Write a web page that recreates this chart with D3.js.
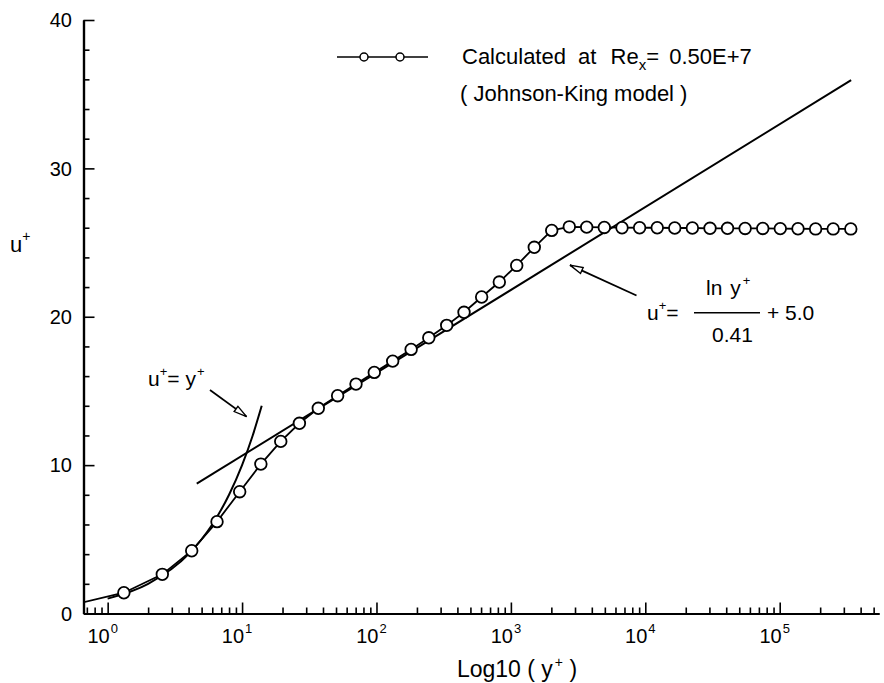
<!DOCTYPE html>
<html>
<head>
<meta charset="utf-8">
<script src="https://cdn.jsdelivr.net/npm/d3@7"></script>
<style>
  body { margin: 0; background: #fff; }
  svg { display: block; font-family: "Liberation Sans", Arial, Helvetica, sans-serif; }
</style>
</head>
<body>
<svg id="chart" width="884" height="683"></svg>
<script>
  // calculated profile (Johnson-King model)
  const yPlus = [0.5, 1.32, 2.55, 4.22, 6.51, 9.6, 13.8, 19.4, 26.7, 36.9, 51.4, 70.4, 96.3,
    132, 181, 245, 333, 448, 606, 820, 1105, 1493, 2013, 2720, 3664,
    4955, 6710, 9070, 12270, 16560, 22400, 30300, 40900, 55300, 74800,
    101000, 136800, 185000, 250000, 338000];
  const uPlus = [0.5, 1.4, 2.64, 4.23, 6.19, 8.21, 10.07, 11.6, 12.82, 13.83, 14.68, 15.46, 16.25,
    17.01, 17.8, 18.58, 19.42, 20.3, 21.33, 22.34, 23.46, 24.68, 25.82, 26.06, 26.04,
    26.02, 26.0, 26.0, 26.0, 25.98, 25.98, 25.96, 25.96, 25.95, 25.95,
    25.94, 25.93, 25.92, 25.92, 25.92];

  // viscous sublayer u+ = y+
  const wallY = [1, 2, 4, 6, 8, 10, 12, 14];
  const wallU = [1, 2, 4, 6, 8, 10, 12, 14];

  // log law u+ = ln(y+)/0.41 + 5.0 (straight on the semi-log plot)
  const logLawY = [4.6, 340000];
  const logLawU = [8.75, 35.95];

  const majorTicks = [1, 10, 100, 1000, 10000, 100000];
  const majorExp = ["0", "1", "2", "3", "4", "5"];
  const uTicks = [0, 10, 20, 30, 40];

  const svg = d3.select("#chart");
  const plotL = 83.5, plotR = 879, plotT = 20, plotB = 613.5;

  const x = d3.scaleLog().domain([0.661, 548000]).range([plotL, plotR]);
  const y = d3.scaleLinear().domain([0, 40]).range([plotB, plotT]);

  const isMajor = d => Math.abs(Math.log10(d) - Math.round(Math.log10(d))) < 1e-9;
  const minorX = x.ticks().filter(d => !isMajor(d));
  const minorU = d3.range(0, 41, 2).filter(d => d % 10 !== 0);

  // axes, ticks pointing inward
  const gx = svg.append("g").attr("transform", `translate(0,${plotB})`);
  gx.append("g").call(d3.axisBottom(x).tickValues(minorX).tickSize(-6).tickSizeOuter(0).tickFormat(""));
  gx.append("g").call(d3.axisBottom(x).tickValues(majorTicks).tickSize(-11).tickSizeOuter(0).tickFormat(""));

  const gy = svg.append("g").attr("transform", `translate(${plotL},0)`);
  gy.append("g").call(d3.axisLeft(y).tickValues(minorU).tickSize(-6).tickSizeOuter(0).tickFormat(""));
  gy.append("g").call(d3.axisLeft(y).tickValues(uTicks).tickSize(-11).tickSizeOuter(0).tickFormat(""));

  svg.selectAll(".domain").attr("stroke", "#000").attr("stroke-width", 2.2);
  svg.selectAll(".tick line").attr("stroke", "#000").attr("stroke-width", 1.6);

  // tick labels
  svg.append("g").selectAll("text").data(majorTicks).join("text")
    .attr("x", d => x(d) + 2)
    .attr("y", 643)
    .attr("text-anchor", "end")
    .attr("font-size", 20)
    .text("10");
  svg.append("g").selectAll("text").data(majorTicks).join("text")
    .attr("x", d => x(d) + 3)
    .attr("y", 633)
    .attr("font-size", 13)
    .text((d, i) => majorExp[i]);

  svg.append("g").selectAll("text").data(uTicks).join("text")
    .attr("x", 72)
    .attr("y", d => y(d))
    .attr("dy", "0.36em")
    .attr("text-anchor", "end")
    .attr("font-size", 20)
    .text(d => d);

  // axis titles
  const xt = svg.append("text").attr("x", 517).attr("y", 677)
    .attr("text-anchor", "middle").attr("font-size", 23);
  xt.append("tspan").text("Log10 ( y");
  xt.append("tspan").attr("font-size", 14).attr("dy", -10).attr("dx", 2).text("+");
  xt.append("tspan").attr("dy", 10).text(" )");

  const yt = svg.append("text").attr("x", 10).attr("y", 252).attr("font-size", 22);
  yt.append("tspan").text("u");
  yt.append("tspan").attr("font-size", 14).attr("dy", -11).text("+");

  // plot clip
  svg.append("clipPath").attr("id", "plotClip")
    .append("rect").attr("x", plotL).attr("y", 0).attr("width", plotR - plotL + 5).attr("height", plotB);

  const line = d3.line().x(d => x(d[0])).y(d => y(d[1]));
  const profile = yPlus.map((d, i) => [d, uPlus[i]]);

  const plot = svg.append("g").attr("clip-path", "url(#plotClip)");

  plot.append("path")
    .datum(logLawY.map((d, i) => [d, logLawU[i]]))
    .attr("fill", "none").attr("stroke", "#000").attr("stroke-width", 2)
    .attr("d", line);

  plot.append("path")
    .datum(wallY.map((d, i) => [d, wallU[i]]))
    .attr("fill", "none").attr("stroke", "#000").attr("stroke-width", 2)
    .attr("d", line.curve(d3.curveMonotoneX));
  line.curve(d3.curveLinear);

  plot.append("path")
    .datum(profile)
    .attr("fill", "none").attr("stroke", "#000").attr("stroke-width", 1.8)
    .attr("d", line);

  plot.selectAll("circle").data(profile).join("circle")
    .attr("cx", d => x(d[0]))
    .attr("cy", d => y(d[1]))
    .attr("r", 5.8)
    .attr("fill", "#fff")
    .attr("stroke", "#000")
    .attr("stroke-width", 1.8);

  // arrows
  svg.append("defs").append("marker")
    .attr("id", "head")
    .attr("viewBox", "-15 -5 17 10")
    .attr("refX", 0).attr("refY", 0)
    .attr("markerWidth", 17).attr("markerHeight", 10)
    .attr("markerUnits", "userSpaceOnUse")
    .attr("orient", "auto")
    .append("path")
    .attr("d", "M0,0 L-13,-3.2 L-13,3.2 Z")
    .attr("fill", "#fff").attr("stroke", "#000").attr("stroke-width", 1.4);

  const arrows = [
    [[5.77, 15.06], [10.8, 13.27]],
    [[8600, 21.43], [2754, 23.48]]
  ];
  svg.append("g").selectAll("line").data(arrows).join("line")
    .attr("x1", d => x(d[0][0])).attr("y1", d => y(d[0][1]))
    .attr("x2", d => x(d[1][0])).attr("y2", d => y(d[1][1]))
    .attr("stroke", "#000").attr("stroke-width", 1.8)
    .attr("marker-end", "url(#head)");

  // u+ = y+ label
  const wl = svg.append("text").attr("x", 148).attr("y", 386).attr("font-size", 21);
  wl.append("tspan").text("u");
  wl.append("tspan").attr("font-size", 13).attr("dy", -10).text("+");
  wl.append("tspan").attr("dy", 10).text("= y");
  wl.append("tspan").attr("font-size", 13).attr("dy", -10).attr("dx", 1).text("+");

  // log-law formula
  const f1 = svg.append("text").attr("x", 647).attr("y", 320).attr("font-size", 21);
  f1.append("tspan").text("u");
  f1.append("tspan").attr("font-size", 13).attr("dy", -10).text("+");
  f1.append("tspan").attr("dy", 10).text("=");
  const f2 = svg.append("text").attr("x", 706).attr("y", 295).attr("font-size", 21);
  f2.append("tspan").text("ln");
  f2.append("tspan").attr("dx", 8).text("y");
  f2.append("tspan").attr("font-size", 13).attr("dy", -10).attr("dx", 2).text("+");
  svg.append("line").attr("x1", 694).attr("x2", 760).attr("y1", 312.7).attr("y2", 312.7)
    .attr("stroke", "#000").attr("stroke-width", 1.6);
  svg.append("text").attr("x", 767).attr("y", 320).attr("font-size", 21).text("+ 5.0");
  svg.append("text").attr("x", 712).attr("y", 342).attr("font-size", 21).text("0.41");

  // legend
  const lg = svg.append("g");
  lg.append("line").attr("x1", 337).attr("x2", 428).attr("y1", 57).attr("y2", 57)
    .attr("stroke", "#000").attr("stroke-width", 1.6);
  lg.selectAll("circle").data([364, 400]).join("circle")
    .attr("cx", d => d).attr("cy", 57).attr("r", 4)
    .attr("fill", "#fff").attr("stroke", "#000").attr("stroke-width", 1.5);

  const t1 = lg.append("text").attr("x", 462).attr("y", 64).attr("font-size", 22);
  t1.append("tspan").text("Calculated");
  t1.append("tspan").attr("dx", 6).text(" at");
  t1.append("tspan").attr("dx", 8).text(" Re");
  t1.append("tspan").attr("font-size", 15).attr("dy", 6).text("x");
  t1.append("tspan").attr("dy", -6).text("=");
  t1.append("tspan").attr("dx", 4).text(" 0.50E+7");

  lg.append("text").attr("x", 460).attr("y", 101).attr("font-size", 22)
    .text("( Johnson-King model )");
</script>
</body>
</html>
